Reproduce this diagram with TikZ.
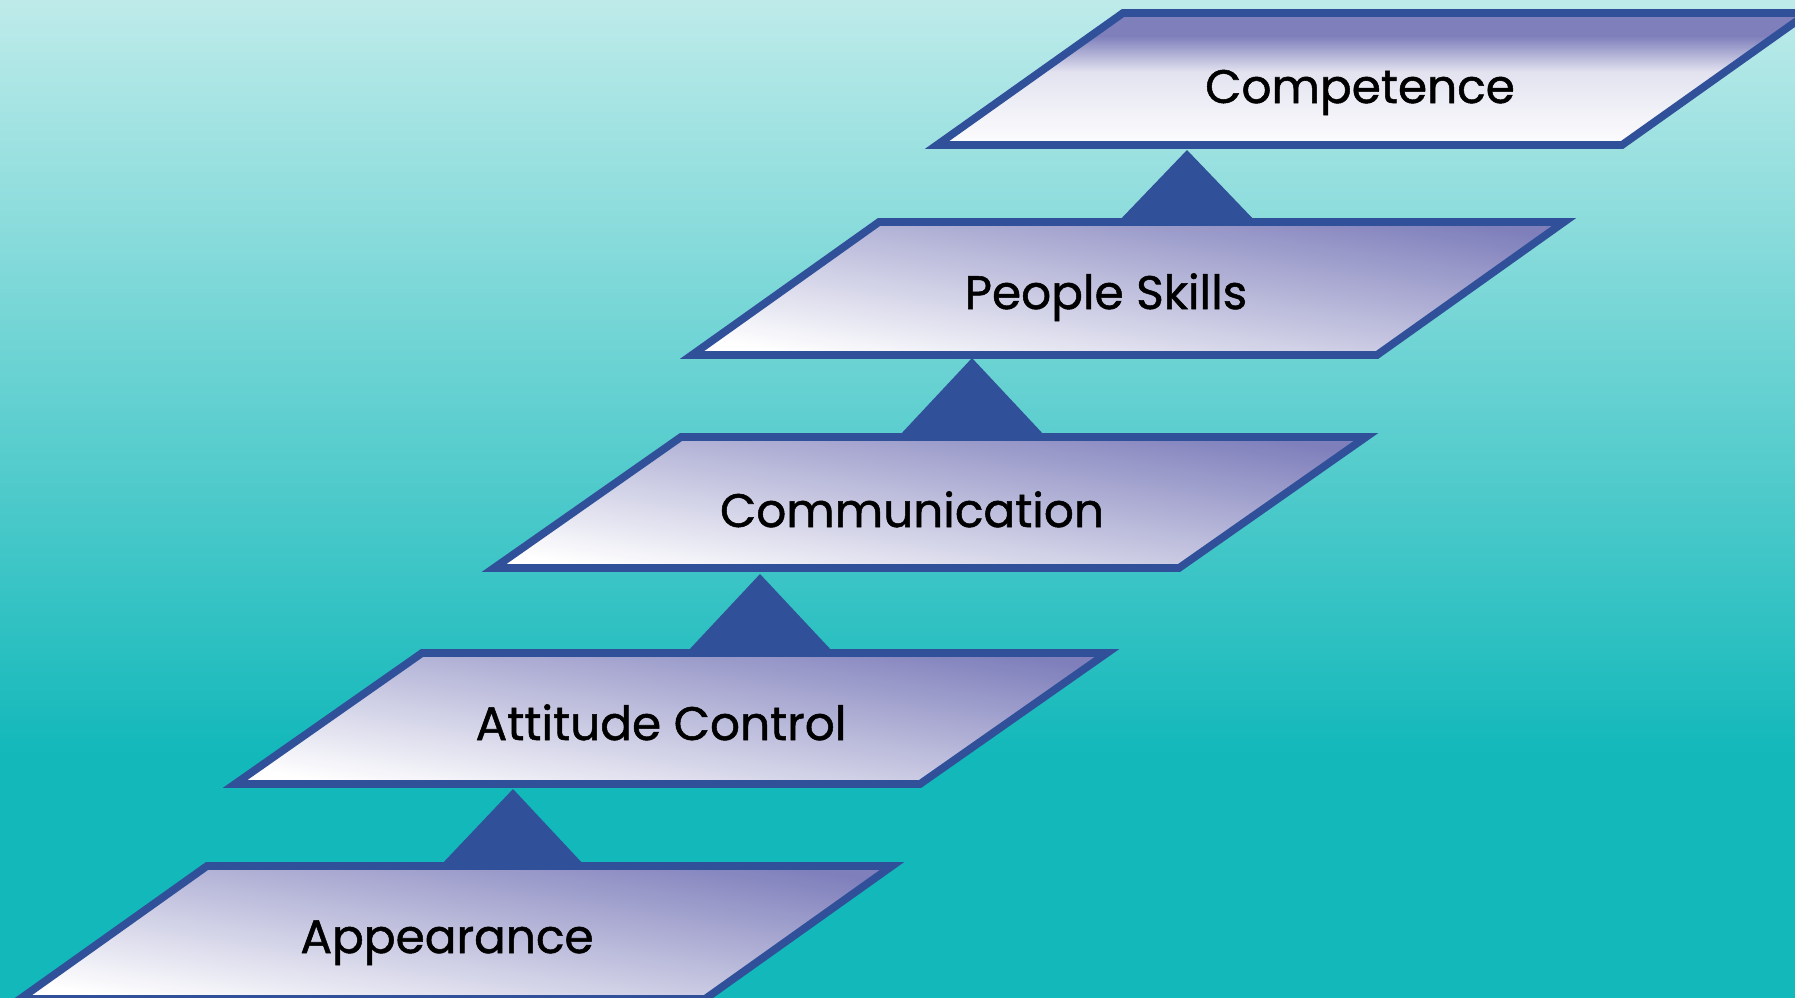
\documentclass[tikz,border=0pt]{standalone}
\usepackage{fontspec}
\setmainfont{Poppins}[FakeBold=1.1]
\definecolor{edge}{HTML}{30519A}
\definecolor{bgtop}{HTML}{BEEBEA}
\definecolor{bgbot}{HTML}{12B8BA}
\definecolor{lav}{HTML}{7F7FBC}
\pgfdeclareverticalshading{bgshade}{100bp}{color(0bp)=(bgbot); color(37bp)=(bgbot); color(75bp)=(bgtop); color(100bp)=(bgtop)}
\tikzset{
  box/.style={draw=edge, line width=7.7pt, line join=miter, top color=lav, bottom color=white, shading angle=-9},
  boxedge/.style={draw=edge, line width=7.7pt, line join=miter},
  lbl/.style={font=\fontsize{47}{52}\selectfont, text=black, inner sep=0pt, anchor=base},
  tri/.style={fill=edge, draw=none}
}
\begin{document}
\begin{tikzpicture}[x=1pt,y=-1pt]
\useasboundingbox (0,0) rectangle (1795,997);
\shade[shading=bgshade] (0,0) rectangle (1795,997);
% connectors (triangles), drawn below boxes
\coordinate (t1a) at (1187,150); \coordinate (t1l) at (1116,224); \coordinate (t1r) at (1258,224);
\coordinate (t2a) at (972,358);  \coordinate (t2l) at (899,436);  \coordinate (t2r) at (1045,436);
\coordinate (t3a) at (760,574);  \coordinate (t3l) at (687,652);  \coordinate (t3r) at (833,652);
\coordinate (t4a) at (513,789);  \coordinate (t4l) at (440,866);  \coordinate (t4r) at (585,866);
\fill[tri] (t1l) -- (t1a) -- (t1r) -- cycle;
\fill[tri] (t2l) -- (t2a) -- (t2r) -- cycle;
\fill[tri] (t3l) -- (t3a) -- (t3r) -- cycle;
\fill[tri] (t4l) -- (t4a) -- (t4r) -- cycle;
% top box: vertical fill, lavender above, white below
\begin{scope}
  \clip (937,145) -- (1622,145) -- (1808,13) -- (1123,13) -- cycle;
  \fill[lav] (900,0) rectangle (1820,36);
  \shade[top color=lav, bottom color=white!78!lav] (900,36) rectangle (1820,72);
  \shade[top color=white!78!lav, bottom color=white] (900,72) rectangle (1820,150);
\end{scope}
\path[boxedge] (937,145) -- (1622,145) -- (1808,13) -- (1123,13) -- cycle;
% other boxes
\path[box] (692,355) -- (1377,355) -- (1564,222) -- (879,222) -- cycle;
\path[box] (494,568) -- (1179,568) -- (1366,437) -- (681,437) -- cycle;
\path[box] (235,784) -- (920,784) -- (1107,653) -- (422,653) -- cycle;
\path[box] (20,999) -- (705,999) -- (892,866) -- (207,866) -- cycle;
% labels
\node[lbl] (competence) at (1360,103) {Competence};
\node[lbl] (people) at (1106,309) {People Skills};
\node[lbl] (communication) at (912,527) {Communication};
\node[lbl] (attitude) at (661,740) {Attitude Control};
\node[lbl] (appearance) at (447,953) {Appearance};
\end{tikzpicture}
\end{document}
